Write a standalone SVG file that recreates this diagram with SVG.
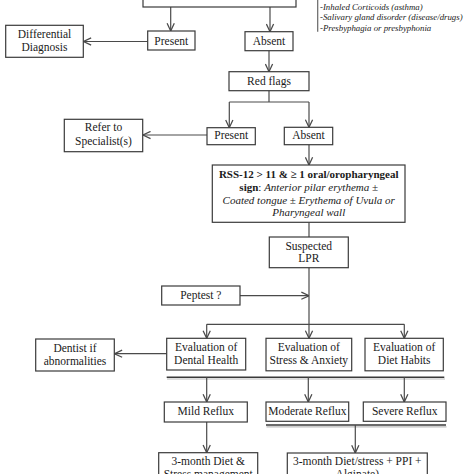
<svg xmlns="http://www.w3.org/2000/svg" width="474" height="474" viewBox="0 0 474 474">
<defs>
<style>
.box{fill:#fff;stroke:#3a3a3a;stroke-width:1.2}
.t{font-family:"Liberation Serif","Times New Roman",serif;font-size:11.5px;fill:#1a1a1a;text-anchor:middle}
.r{font-family:"Liberation Serif","Times New Roman",serif;font-size:11px;fill:#1a1a1a;text-anchor:middle}
.li{font-family:"Liberation Serif","Times New Roman",serif;font-size:8.8px;font-style:italic;fill:#1a1a1a}
.c{fill:none;stroke:#4a4a4a;stroke-width:1.2}
.a{fill:none;stroke:#4a4a4a;stroke-width:1.2;marker-end:url(#ah)}
.bar{stroke:#3a3a3a;stroke-width:1.5}
.sh{stroke:#bdbdbd;stroke-width:1.2}
</style>
<marker id="ah" viewBox="0 0 10 10" refX="9.5" refY="5" markerWidth="9" markerHeight="9" markerUnits="userSpaceOnUse" orient="auto">
<path d="M1,1 L9.5,5 L1,9" fill="none" stroke="#4a4a4a" stroke-width="1.4"/>
</marker>
</defs>
<rect width="474" height="474" fill="#fff"/>

<g id="connectors">
<path class="a" d="M170.7,7 V31"/>
<path class="a" d="M270,7 V31.7"/>
<path class="a" d="M147.7,41.5 H83.5"/>
<path class="a" d="M269,50.7 V71.7"/>
<path class="c" d="M269,90.7 V102 M229.3,102 H309"/>
<path class="a" d="M229.3,102 V127.7"/>
<path class="a" d="M309,102 V127.3"/>
<path class="a" d="M207,135 H142.9"/>
<path class="a" d="M309,144.7 V165"/>
<path class="c" d="M309,222.3 V237"/>
<path class="a" d="M309,267.7 V338.3"/>
<path class="a" d="M240,295.7 H309"/>
<path class="c" d="M206.7,324.3 H404.3"/>
<path class="a" d="M206.7,324.3 V338.3"/>
<path class="a" d="M404.3,324.3 V338.3"/>
<path class="a" d="M166.7,353.7 H114.5"/>
<line class="sh" x1="167" y1="379" x2="445" y2="379"/>
<line class="bar" x1="166.7" y1="377.3" x2="444.3" y2="377.3"/>
<path class="a" d="M206.7,377.3 V402"/>
<path class="a" d="M308.3,377.3 V402"/>
<path class="a" d="M404.3,377.3 V402"/>
<line class="sh" x1="266.5" y1="426.8" x2="446.5" y2="426.8"/>
<line class="bar" x1="266" y1="425" x2="446" y2="425"/>
<path class="a" d="M355.3,425 V453"/>
<path class="a" d="M206.7,422 V452.7"/>
<line x1="317.7" y1="0" x2="317.7" y2="31.7" stroke="#666" stroke-width="1.2"/>
</g>

<g id="top-box"><rect class="box" x="143" y="-10" width="153" height="17"/></g>

<g id="confounders">
<text class="li" x="320" y="9.5">-Inhaled Corticoids (asthma)</text>
<text class="li" x="320" y="20.2">-Salivary gland disorder (disease/drugs)</text>
<text class="li" x="320" y="30.8">-Presbyphagia or presbyphonia</text>
</g>

<g id="present1"><rect class="box" x="147.7" y="31" width="47.3" height="19"/><text class="t" x="171.3" y="44.5">Present</text></g>
<g id="absent1"><rect class="box" x="245" y="31.7" width="48" height="19"/><text class="t" x="269" y="45">Absent</text></g>
<g id="differential"><rect class="box" x="5.7" y="25.3" width="77.6" height="32"/><text class="t" x="44.5" y="38">Differential</text><text class="t" x="44.5" y="50.7">Diagnosis</text></g>
<g id="redflags"><rect class="box" x="229" y="71.7" width="80" height="19"/><text class="t" x="269" y="85">Red flags</text></g>
<g id="present2"><rect class="box" x="207" y="127.7" width="48.3" height="17"/><text class="t" x="231.2" y="138.8">Present</text></g>
<g id="absent2"><rect class="box" x="284.3" y="127.3" width="48.4" height="17.4"/><text class="t" x="308.5" y="138.8">Absent</text></g>
<g id="specialist"><rect class="box" x="64.3" y="119.3" width="78.4" height="32.4"/><text class="t" x="103.5" y="131.3">Refer to</text><text class="t" x="103.5" y="144.7">Specialist(s)</text></g>
<g id="rss"><rect class="box" x="212.3" y="165" width="192.7" height="57.3"/>
<text class="r" x="308.7" y="178" font-weight="bold">RSS-12 &gt; 11 &amp; ≥ 1 oral/oropharyngeal</text>
<text class="r" x="308.7" y="191.3"><tspan font-weight="bold">sign</tspan>: <tspan font-style="italic">Anterior pilar erythema ±</tspan></text>
<text class="r" x="308.7" y="203.6" font-style="italic">Coated tongue ± Erythema of Uvula or</text>
<text class="r" x="308.7" y="216" font-style="italic">Pharyngeal wall</text>
</g>
<g id="lpr"><rect class="box" x="269.3" y="237" width="79" height="30.7"/><text class="t" x="308.8" y="249.5">Suspected</text><text class="t" x="308.8" y="262">LPR</text></g>
<g id="peptest"><rect class="box" x="161.7" y="286" width="78.3" height="19"/><text class="t" x="200.8" y="299.3">Peptest ?</text></g>
<g id="dental"><rect class="box" x="166.7" y="338.3" width="79" height="31.7"/><text class="t" x="206.2" y="351.3">Evaluation of</text><text class="t" x="206.2" y="364">Dental Health</text></g>
<g id="stress"><rect class="box" x="266" y="338.3" width="85.7" height="32.5"/><text class="t" x="308.8" y="351.3">Evaluation of</text><text class="t" x="308.8" y="364">Stress &amp; Anxiety</text></g>
<g id="diet"><rect class="box" x="365" y="338.3" width="78.3" height="32.5"/><text class="t" x="404.2" y="351.3">Evaluation of</text><text class="t" x="404.2" y="364">Diet Habits</text></g>
<g id="dentist"><rect class="box" x="35.7" y="339" width="78.6" height="32"/><text class="t" x="75" y="351.8">Dentist if</text><text class="t" x="75" y="364.5">abnormalities</text></g>
<g id="mild"><rect class="box" x="164.3" y="402" width="83" height="20"/><text class="t" x="205.8" y="415.3">Mild Reflux</text></g>
<g id="moderate"><rect class="box" x="266" y="402" width="82.7" height="19.3"/><text class="t" x="307.3" y="415">Moderate Reflux</text></g>
<g id="severe"><rect class="box" x="363.3" y="402" width="82.7" height="19.3"/><text class="t" x="404.7" y="415">Severe Reflux</text></g>
<g id="mild-treatment"><rect class="box" x="158.7" y="452.7" width="99" height="30"/><text class="t" x="208.2" y="465">3-month Diet &amp;</text><text class="t" x="208.2" y="477.6">Stress management</text></g>
<g id="modsev-treatment"><rect class="box" x="287.3" y="453" width="140" height="30"/><text class="t" x="357.3" y="465">3-month Diet/stress + PPI +</text><text class="t" x="357.3" y="477.6">Alginate)</text></g>
</svg>
